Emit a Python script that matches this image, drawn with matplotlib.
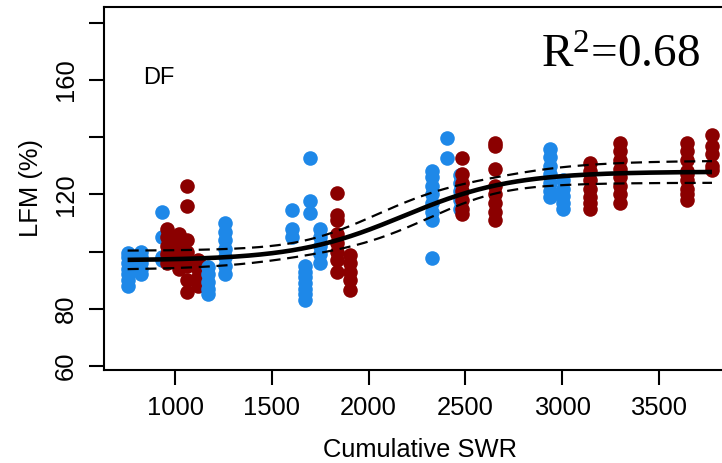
import numpy as np
import matplotlib
matplotlib.use("Agg")
import matplotlib.pyplot as plt

plt.rcParams['font.family'] = ['Liberation Sans', 'DejaVu Sans']
plt.rcParams['mathtext.fontset'] = 'custom'
plt.rcParams['mathtext.rm'] = 'Liberation Serif'
plt.rcParams['mathtext.it'] = 'Liberation Serif:italic'

# ---- data: (cumulative SWR, LFM values) per sampling date ----
blue_x = [755, 822, 935, 1172, 1260, 1606, 1673, 1699, 1751,
          2329, 2407, 2474, 2938, 3005]
blue_y = [
    [99.5, 98, 96, 94, 92, 90, 88],
    [100, 98, 96, 94, 92],
    [114, 105, 97, 98],
    [94.5, 92, 89.5, 87, 85],
    [110, 107, 104, 101, 98, 95, 92],
    [114.5, 108, 105],
    [95, 93, 91, 89, 87, 85, 83],
    [132.6, 117.6, 113.4],
    [108, 105, 102, 99, 96],
    [128, 126, 123, 120, 117, 114, 111, 97.7],
    [139.6, 132.6],
    [126.7, 124, 121, 118, 115],
    [136, 133, 130, 127, 124, 121, 119],
    [125, 122, 119.5, 117, 115],
]
red_x = [961, 1018, 1064, 1121, 1838, 1906, 2484, 2654,
         3144, 3300, 3645, 3774]
red_y = [
    [108, 105, 102, 99, 96],
    [106, 103, 100, 97, 94],
    [123, 116, 104, 100, 95, 90, 86],
    [97, 94, 91, 88],
    [120.4, 112.7, 111, 106, 103, 100, 97, 93],
    [98.7, 96, 93, 90, 86.5],
    [132.6, 127, 124, 121, 118, 115, 113],
    [138, 137, 129, 123, 120, 117, 114, 111],
    [131, 128, 125, 122, 119, 117, 115],
    [138, 135, 132, 129, 126, 123, 120, 117],
    [138, 135, 132, 128, 125, 122, 118, 127, 120],
    [140.6, 137, 134, 130, 128.4],
]
x_ticks = [1000, 1500, 2000, 2500, 3000, 3500]
y_ticks = [60, 80, 100, 120, 140, 160, 180]
y_ticklabels = ['60', '80', '', '120', '', '160', '']
site_label = 'DF'
r2_label = r'R$^{2}$=0.68'

BLUE = '#1E88E8'
RED = '#8B0000'

# ---- figure ----
W, H = 722, 463
fig = plt.figure(figsize=(W / 100, H / 100), dpi=100)
left_px, right_px, top_px, bot_px = 104, 735.4, 6.7, 370
ax = fig.add_axes([left_px / W, (H - bot_px) / H,
                   (right_px - left_px) / W, (bot_px - top_px) / H])

# points drawn in chronological order
groups = [(x, ys, BLUE) for x, ys in zip(blue_x, blue_y)] + \
         [(x, ys, RED) for x, ys in zip(red_x, red_y)]
groups.sort(key=lambda g: g[0])
for x, ys, c in groups:
    ax.scatter([x] * len(ys), ys, s=110, color=c, linewidths=0, zorder=2)

# smooth logistic fit  y = a + b / (1 + exp(-(x - m) / s)), s >= 280
allx = np.concatenate([[x] * len(ys) for x, ys, _ in groups]).astype(float)
ally = np.concatenate([ys for _, ys, _ in groups]).astype(float)


def design(x, m, s):
    f = 1.0 / (1.0 + np.exp(-(x - m) / s))
    return np.vstack([np.ones_like(x), f]).T


best = None
for m in np.arange(1500, 3200, 10):
    for s in np.arange(280, 900, 10):
        A = design(allx, m, s)
        coef, *_ = np.linalg.lstsq(A, ally, rcond=None)
        sse = np.sum((ally - A @ coef) ** 2)
        if best is None or sse < best[0]:
            best = (sse, m, s, coef)
sse, m, s, (a, b) = best


def jac(x):
    f = 1.0 / (1.0 + np.exp(-(x - m) / s))
    d = b * f * (1 - f)
    return np.vstack([np.ones_like(x), f, -d / s]).T, a + b * f


J, _ = jac(allx)
sigma2 = sse / (len(ally) - 4)
cov = sigma2 * np.linalg.inv(J.T @ J)
gx = np.linspace(allx.min(), allx.max(), 300)
G, fit = jac(gx)
se = np.sqrt(np.einsum('ij,jk,ik->i', G, cov, G))
band = 2.6 * se
ax.plot(gx, fit, color='black', lw=3.3, zorder=3, solid_capstyle='butt')
ax.plot(gx, fit + band, color='black', lw=1.6, ls=(0, (5, 3)), zorder=3)
ax.plot(gx, fit - band, color='black', lw=1.6, ls=(0, (5, 3)), zorder=3)

ax.set_xlim(633, 3895)
ax.set_ylim(58.6, 185.6)
ax.set_xticks(x_ticks)
ax.set_yticks(y_ticks)
ax.set_yticklabels(y_ticklabels)
for sp in ax.spines.values():
    sp.set_linewidth(1.5)
ax.tick_params(axis='both', length=10.8, width=1.5, labelsize=18.4, pad=8)
ax.tick_params(axis='y', labelrotation=90)
for lab in ax.get_yticklabels():
    lab.set_va('center')
ax.set_xlabel('Cumulative SWR', fontsize=18.4, labelpad=13)
ax.set_ylabel('LFM (%)', fontsize=18.4, labelpad=8)

ax.text((143 - left_px) / (right_px - left_px), (bot_px - 78) / (bot_px - top_px),
        site_label, transform=ax.transAxes, fontsize=17, ha='left', va='center')
ax.text((700 - left_px) / (right_px - left_px), (bot_px - 68) / (bot_px - top_px),
        r2_label, transform=ax.transAxes, fontsize=34, ha='right', va='baseline',
        family='Liberation Serif')

fig.savefig('out.png', dpi=100)
